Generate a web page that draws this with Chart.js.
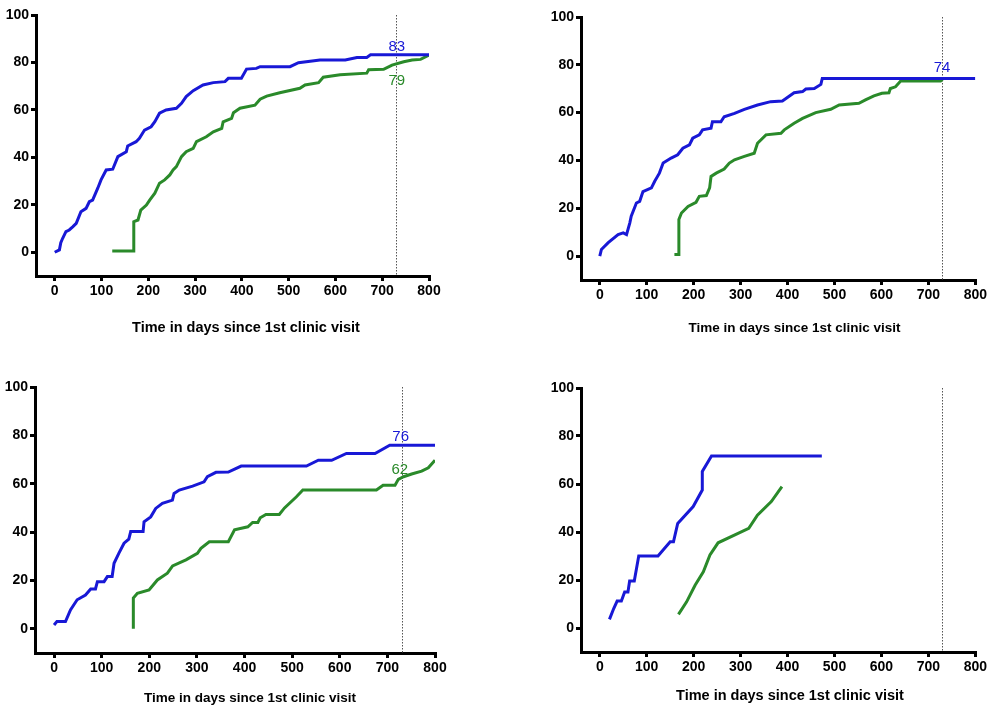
<!DOCTYPE html>
<html>
<head>
<meta charset="utf-8">
<script src="https://cdn.jsdelivr.net/npm/chart.js@4"></script>
<style>
  html, body { margin: 0; padding: 0; background: #fff; }
  body { width: 989px; height: 709px; position: relative; overflow: hidden; }
  canvas { position: absolute; }
</style>
</head>
<body>
<canvas id="c1" width="450" height="345" style="left:0px;top:0px"></canvas>
<canvas id="c2" width="444" height="345" style="left:545px;top:0px"></canvas>
<canvas id="c3" width="450" height="339" style="left:0px;top:370px"></canvas>
<canvas id="c4" width="444" height="339" style="left:545px;top:370px"></canvas>
<script>
// ---------- DATA ----------
const xTickValues = [0, 100, 200, 300, 400, 500, 600, 700, 800];
const yTickValues = [0, 20, 40, 60, 80, 100];
const xAxisTitle = 'Time in days since 1st clinic visit';
const referenceDay = 730;

// [days, percent]
const panel1Blue = [[0,0],[10,1],[13,4],[17,5.9],[24,8.7],[31,9.4],[39,10.8],[46,12.2],[56,17.1],[67,18.5],[74,21.3],[81,22],[92,27],[99,30.5],[110,34.7],[124,35],[135,40.3],[153,42.4],[156,44.8],[174,46.6],[181,48],[192,51.5],[206,52.9],[214,55],[224,58.6],[238,60],[260,60.7],[271,62.8],[281,65.6],[296,68.1],[317,70.5],[339,71.5],[364,71.9],[371,73.3],[399,73.3],[410,77.2],[431,77.5],[439,78.2],[503,78.2],[521,79.9],[567,81],[621,81],[646,82.1],[667,82.1],[675,83.2],[800,83.2]];
const panel1Green = [[123,0.5],[169,0.5],[169,12.9],[178,13.6],[184,17.8],[196,19.9],[203,22],[214,24.9],[224,29.1],[235,30.5],[246,32.6],[253,34.7],[260,36.1],[271,40.3],[281,42.4],[296,43.8],[303,46.6],[324,48.7],[339,50.8],[357,52.2],[360,55],[378,56.4],[382,58.8],[396,60.7],[428,62],[439,64.5],[453,65.8],[481,67.2],[524,69.1],[535,70.5],[564,71.5],[574,73.8],[610,74.8],[667,75.5],[671,76.9],[703,77.1],[721,78.9],[746,80.3],[764,81],[782,81.3],[800,83.1]];
const panel2Blue = [[0,0],[3.5,2.8],[18,5.6],[39,9],[50,9.7],[57,9],[64,13.9],[67,16.7],[78,22.2],[85,22.9],[92,27],[110,28.5],[117,31.3],[127,34.7],[135,38.9],[152,41],[166,42.4],[177,45.1],[191,46.5],[198,49.3],[212,50.7],[219,52.8],[237,53.5],[240,56.2],[258,56.2],[265,58.3],[287,59.7],[308,61.4],[336,63.2],[364,64.6],[389,64.9],[414,68.3],[432,68.8],[439,69.9],[457,70.1],[471,71.8],[474,74.3],[800,74.3]];
const panel2Green = [[159,0.7],[168.5,0.7],[168.5,15.3],[174,18],[188,20.8],[205,22.5],[212,25],[227,25.3],[234,28.5],[237,33.3],[248,34.7],[265,36.4],[276,38.9],[287,40.3],[308,41.7],[329,43],[336,47.2],[354,50.7],[386,51.4],[393,52.8],[414,55.6],[432,57.6],[460,60],[492,61.4],[510,63.2],[552,63.9],[566,65.3],[584,67],[601,68.1],[616,68.3],[619,70.1],[630,70.8],[641,73.2],[726,73.2],[730,74]];
const panel3Blue = [[0,1.6],[6,3],[24,3],[34.5,7.8],[48.5,12],[66,14],[77,16.5],[87,16.5],[91,19.5],[105,19.5],[112,21.6],[122,21.6],[126,27.1],[136,31.2],[147,35.4],[157,37.1],[161,40.2],[187,40.2],[189,44.3],[203,46.3],[213.5,49.8],[227.5,51.9],[248.6,53.2],[252,56],[263,57.4],[291,59],[315,60.8],[322,62.9],[340,64.7],[366,64.8],[393,67.3],[530,67.3],[555,69.7],[583,69.7],[614,72.5],[674,72.5],[705,75.9],[800,75.9]];
const panel3Green = [[166.5,0],[166.5,12.7],[175,14.7],[199.5,16.1],[217,20.2],[238,23],[249,26],[277,28.5],[301,31.2],[308.5,33.3],[326,36],[366,36],[379,40.9],[407,42.2],[417,44],[428,44],[433,45.9],[445,47.3],[473,47.3],[484,50],[509,54.6],[522.5,57.4],[677,57.4],[691,59.4],[716,59.4],[723,61.8],[734,62.9],[751,64],[772,65.2],[786,66.6],[800,69.7]];
const panel4Blue = [[20.6,3.6],[29.7,8.1],[37,11.2],[46,11.2],[53,15],[60,15],[63.6,19.6],[73.5,19.6],[83,30],[124,30],[150,35.9],[157,35.9],[166,43.6],[199,50.6],[218.4,57.5],[218.4,65.2],[238,71.7],[473,71.7]];
const panel4Green = [[167.6,5.7],[185,10.9],[203,17.8],[220.6,23.4],[234.7,30.4],[252,35.5],[317.4,41.5],[335.8,47],[365.4,52.7],[388,58.9]];

// annotation labels (text, series colour)
const panel1Notes = [['83', 'blue'], ['79', 'green']];
const panel2Notes = [['74', 'blue']];
const panel3Notes = [['76', 'blue'], ['62', 'green']];
const panel4Notes = [];

// ---------- STYLE / LAYOUT ----------
const BLUE = '#1818d6';
const GREEN = '#2a8a2a';
const noteAnchors = {   // data coordinates of label centers
  c1: [[731, 86.5], [731, 72.2]],
  c2: [[729, 78.8]],
  c3: [[728, 79.3], [726, 65.8]],
  c4: []
};

const panels = [
  { id: 'c1', blue: panel1Blue, green: panel1Green, notes: panel1Notes,
    pad: { top: 15, right: 21, left: 0, bottom: 0 }, yWidth: 36, xHeight: 69,
    titleX: 246, titleY: 328, titleSize: 14.5 },
  { id: 'c2', blue: panel2Blue, green: panel2Green, notes: panel2Notes,
    pad: { top: 17, right: 12, left: 0, bottom: 0 }, yWidth: 36, xHeight: 65,
    titleX: 249.5, titleY: 328, titleSize: 13.5 },
  { id: 'c3', blue: panel3Blue, green: panel3Green, notes: panel3Notes,
    pad: { top: 17, right: 15, left: 0, bottom: 0 }, yWidth: 35, xHeight: 56,
    titleX: 250, titleY: 328, titleSize: 13.5 },
  { id: 'c4', blue: panel4Blue, green: panel4Green, notes: panel4Notes,
    pad: { top: 18, right: 12, left: 0, bottom: 0 }, yWidth: 36, xHeight: 57,
    titleX: 245, titleY: 326, titleSize: 14.5 }
];

const FONT = '"Liberation Sans", Arial, Helvetica, sans-serif';

const extrasPlugin = {
  id: 'extras',
  beforeDatasetsDraw(chart, args, opts) {
    const { ctx, chartArea, scales } = chart;
    const x = Math.round(scales.x.getPixelForValue(referenceDay)) + 0.5;
    ctx.save();
    ctx.strokeStyle = '#555';
    ctx.lineWidth = 1;
    ctx.setLineDash([1.5, 1.5]);
    ctx.beginPath();
    ctx.moveTo(x, scales.y.getPixelForValue(100));
    ctx.lineTo(x, chartArea.bottom);
    ctx.stroke();
    ctx.restore();
  },
  afterDraw(chart, args, opts) {
    const { ctx, scales } = chart;
    ctx.save();
    ctx.textAlign = 'center';
    ctx.textBaseline = 'middle';
    ctx.font = '15px ' + FONT;
    opts.notes.forEach((n, i) => {
      const a = opts.anchors[i];
      ctx.fillStyle = n[1] === 'blue' ? BLUE : GREEN;
      ctx.fillText(n[0], scales.x.getPixelForValue(a[0]), scales.y.getPixelForValue(a[1]));
    });
    ctx.fillStyle = '#000';
    ctx.font = 'bold ' + opts.titleSize + 'px ' + FONT;
    ctx.fillText(xAxisTitle, opts.titleX, opts.titleY);
    ctx.restore();
  }
};

const toPts = arr => arr.map(p => ({ x: p[0], y: p[1] }));

panels.forEach(p => {
  const axisCommon = {
    type: 'linear',
    border: { display: true, color: '#000', width: 3 },
    grid: { display: true, drawOnChartArea: false, drawTicks: true, tickLength: 5,
            color: '#000', lineWidth: 3 },
    ticks: { color: '#000', font: { family: FONT, size: 14, weight: 'bold' }, padding: 2,
             autoSkip: false, maxRotation: 0 }
  };
  new Chart(document.getElementById(p.id), {
    type: 'line',
    data: {
      datasets: [
        { data: toPts(p.blue), borderColor: BLUE, borderWidth: 3, pointRadius: 0, tension: 0, fill: false },
        { data: toPts(p.green), borderColor: GREEN, borderWidth: 3, pointRadius: 0, tension: 0, fill: false }
      ]
    },
    options: {
      responsive: false,
      animation: false,
      events: [],
      layout: { padding: p.pad },
      plugins: {
        legend: { display: false },
        tooltip: { enabled: false },
        extras: { notes: p.notes, anchors: noteAnchors[p.id], titleX: p.titleX, titleY: p.titleY, titleSize: p.titleSize }
      },
      scales: {
        x: Object.assign({}, axisCommon, {
          min: -40, max: 800,
          afterBuildTicks: s => { s.ticks = xTickValues.map(v => ({ value: v })); },
          afterFit: s => { s.height = p.xHeight; },
          ticks: Object.assign({}, axisCommon.ticks, { callback: v => String(v) })
        }),
        y: Object.assign({}, axisCommon, {
          min: -10, max: 100,
          afterBuildTicks: s => { s.ticks = yTickValues.map(v => ({ value: v })); },
          afterFit: s => { s.width = p.yWidth; },
          ticks: Object.assign({}, axisCommon.ticks, { callback: v => String(v) })
        })
      }
    },
    plugins: [extrasPlugin]
  });
});
</script>
</body>
</html>
